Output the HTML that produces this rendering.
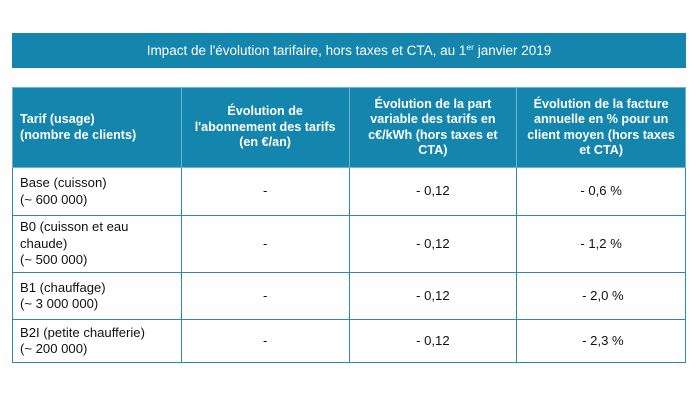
<!DOCTYPE html>
<html><head><style>
body{margin:0;width:700px;height:400px;background:#fff;font-family:"Liberation Sans",sans-serif;position:relative;overflow:hidden}
.bar{position:absolute;left:12px;top:33px;width:674px;height:35px;background:#1485ad;color:#fff;font-size:13.5px;text-align:center;line-height:35px}
.bar sup{font-size:8.5px;vertical-align:5px;line-height:0}
table{position:absolute;left:12px;top:87px;border-collapse:collapse;width:674px;font-size:13.1px;color:#111}
td,th{border:1.5px solid #2d86b3;padding:0 7px}
th{background:#1485ad;color:#fff;font-weight:bold;font-size:12.6px;height:79px;line-height:15.5px;border-color:#6fb2cf}
th:first-child{text-align:left}
td{line-height:16.5px;text-align:center}
td:first-child{text-align:left}
</style></head><body>
<div class="bar">Impact de l'évolution tarifaire, hors taxes et CTA, au 1<sup>er</sup> janvier 2019</div>
<table>
<colgroup><col style="width:169px"><col style="width:168px"><col style="width:168px"><col style="width:169px"></colgroup>
<tr><th>Tarif (usage)<br>(nombre de clients)</th><th>Évolution de<br>l'abonnement des tarifs<br>(en €/an)</th><th>Évolution de la part<br>variable des tarifs en<br>c€/kWh (hors taxes et<br>CTA)</th><th>Évolution de la facture<br>annuelle en % pour un<br>client moyen (hors taxes<br>et CTA)</th></tr>
<tr style="height:48px"><td>Base (cuisson)<br>(~ 600 000)</td><td>-</td><td>- 0,12</td><td>- 0,6 %</td></tr>
<tr style="height:57px"><td>B0 (cuisson et eau<br>chaude)<br>(~ 500 000)</td><td>-</td><td>- 0,12</td><td>- 1,2 %</td></tr>
<tr style="height:47px"><td>B1 (chauffage)<br>(~ 3 000 000)</td><td>-</td><td>- 0,12</td><td>&nbsp;- 2,0 %</td></tr>
<tr style="height:43px"><td>B2I (petite chaufferie)<br>(~ 200 000)</td><td>-</td><td>- 0,12</td><td>&nbsp;- 2,3 %</td></tr>
</table>
</body></html>
